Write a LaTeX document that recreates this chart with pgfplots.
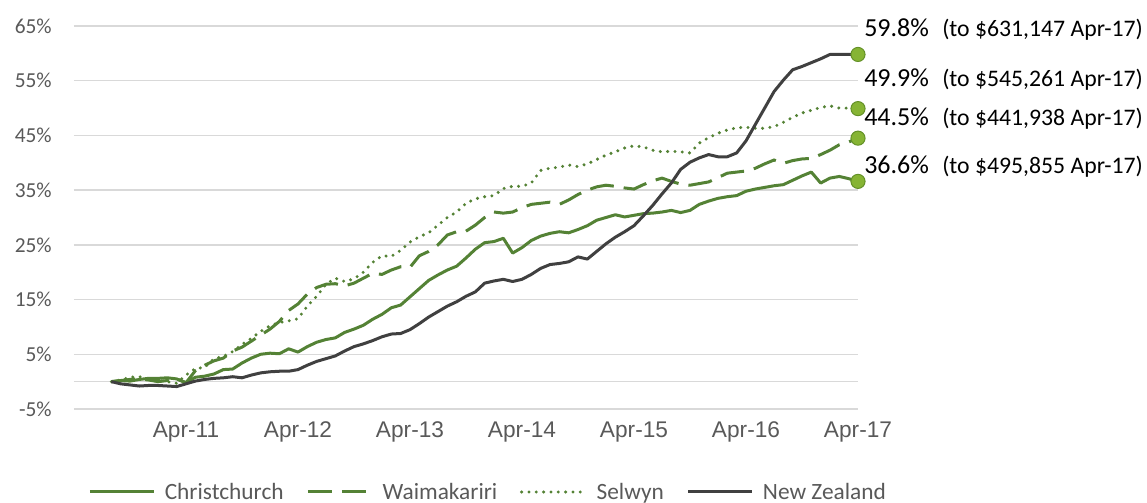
\documentclass[border=0pt]{standalone}
\usepackage{fontspec}
\setmainfont{Carlito}
\newfontfamily\arialfont{Liberation Sans}
\usepackage{pgfplots}
\pgfplotsset{compat=1.18}
\definecolor{ccgreen}{RGB}{84,130,53}
\definecolor{nzgray}{RGB}{64,64,64}
\definecolor{mkfill}{RGB}{134,180,52}
\definecolor{mkdraw}{RGB}{100,145,40}
\definecolor{gridgray}{RGB}{217,217,217}
\definecolor{tickgray}{RGB}{89,89,89}
\begin{document}
\begin{tikzpicture}
\useasboundingbox (-55.5pt,-70.5pt) rectangle (804.75pt,306.75pt);
\begin{axis}[
  at={(0pt,0pt)}, anchor=south west,
  width=588pt, height=287.25pt, scale only axis,
  xmin=0, xmax=84, ymin=-5, ymax=65,
  axis line style={draw=none},
  major tick length=0pt,
  ytick={-5,5,15,25,35,45,55,65},
  yticklabels={-5\%,5\%,15\%,25\%,35\%,45\%,55\%,65\%},
  xtick={12,24,36,48,60,72,84},
  xticklabels={Apr-11,Apr-12,Apr-13,Apr-14,Apr-15,Apr-16,Apr-17},
  ymajorgrids, grid style={draw=gridgray, line width=1pt},
  extra y ticks={0}, extra y tick labels={}, extra y tick style={grid=major},
  yticklabel style={font=\fontsize{16}{16}\selectfont, text=tickgray, inner sep=0pt, anchor=east, xshift=-16.5pt},
  xticklabel style={font=\arialfont\fontsize{17}{17}\selectfont, text=tickgray, inner sep=0pt, anchor=north, yshift=-9.5pt},
  clip=false,
  legend columns=4,
  legend cell align=left,
  legend style={at={(0.527,-0.2167)}, anchor=center, draw=none, fill=none,
     font=\fontsize{17.5}{17.5}\selectfont, text=tickgray, inner sep=0pt, nodes={inner sep=0pt},
     /tikz/every odd column/.append style={column sep=7pt},
     /tikz/every even column/.append style={column sep=17pt}},
  legend image code/.code={\draw[#1] (0pt,0pt) -- (48pt,0pt);},
]
\addplot[ccgreen, line width=2.25pt, line join=round, mark=*, mark indices={81}, mark size=5.3pt,
  mark options={fill=mkfill, draw=mkdraw, line width=0.75pt, solid}] coordinates {
(4,0)(5,0.2)(6,0.1)(7,0.4)(8,0.6)(9,0.6)(10,0.7)(11,0.5)(12,-0.2)(13,0.8)(14,1.0)(15,1.4)(16,2.2)(17,2.3)(18,3.4)(19,4.3)(20,5.0)(21,5.2)(22,5.1)(23,6.0)(24,5.4)(25,6.4)(26,7.2)(27,7.7)(28,8.0)(29,9.0)(30,9.6)(31,10.3)(32,11.4)(33,12.3)(34,13.5)(35,14.0)(36,15.5)(37,17.0)(38,18.5)(39,19.5)(40,20.4)(41,21.1)(42,22.6)(43,24.2)(44,25.4)(45,25.6)(46,26.2)(47,23.5)(48,24.5)(49,25.8)(50,26.6)(51,27.1)(52,27.4)(53,27.2)(54,27.8)(55,28.5)(56,29.5)(57,30.0)(58,30.5)(59,30.1)(60,30.4)(61,30.7)(62,30.8)(63,31.0)(64,31.3)(65,30.9)(66,31.3)(67,32.4)(68,33.0)(69,33.5)(70,33.8)(71,34.0)(72,34.8)(73,35.2)(74,35.5)(75,35.8)(76,36.0)(77,36.8)(78,37.6)(79,38.3)(80,36.3)(81,37.2)(82,37.5)(83,37.1)(84,36.6)
};
\addlegendentry{Christchurch}
\addplot[ccgreen, line width=2.25pt, dash pattern=on 18pt off 7.5pt, mark=*, mark indices={81}, mark size=5.3pt,
  mark options={fill=mkfill, draw=mkdraw, line width=0.75pt, solid}] coordinates {
(4,0)(5,0.2)(6,0.4)(7,0.5)(8,0.3)(9,0.0)(10,0.2)(11,0.5)(12,-0.2)(13,2.0)(14,3.0)(15,3.8)(16,4.3)(17,5.6)(18,6.3)(19,7.4)(20,8.5)(21,9.6)(22,11.0)(23,13.0)(24,14.2)(25,16.0)(26,17.2)(27,17.8)(28,17.9)(29,17.5)(30,18.0)(31,18.9)(32,19.8)(33,19.6)(34,20.4)(35,21.0)(36,20.9)(37,23.0)(38,23.8)(39,25.0)(40,26.8)(41,27.4)(42,27.5)(43,28.6)(44,30.0)(45,31.0)(46,30.8)(47,31.0)(48,31.8)(49,32.4)(50,32.6)(51,32.8)(52,32.4)(53,33.2)(54,34.2)(55,35.0)(56,35.6)(57,35.9)(58,35.7)(59,35.4)(60,35.2)(61,36.0)(62,36.7)(63,37.2)(64,36.6)(65,36.1)(66,35.9)(67,36.2)(68,36.5)(69,37.3)(70,38.1)(71,38.3)(72,38.5)(73,39.0)(74,39.8)(75,40.5)(76,39.9)(77,40.4)(78,40.7)(79,40.8)(80,41.5)(81,42.3)(82,43.3)(83,43.8)(84,44.5)
};
\addlegendentry{Waimakariri}
\addplot[ccgreen, line width=2.5pt, line cap=round, dash pattern=on 0pt off 5.5pt, mark=*, mark indices={81}, mark size=5.3pt,
  mark options={fill=mkfill, draw=mkdraw, line width=0.75pt, solid}] coordinates {
(4,0)(5,0.3)(6,0.8)(7,0.9)(8,0.5)(9,0.2)(10,0.0)(11,-0.3)(12,1.2)(13,2.4)(14,2.6)(15,4.2)(16,4.6)(17,5.5)(18,6.8)(19,7.9)(20,9.2)(21,10.2)(22,10.8)(23,11.1)(24,11.5)(25,13.8)(26,15.6)(27,17.8)(28,18.9)(29,18.3)(30,18.8)(31,20.0)(32,21.8)(33,23.0)(34,22.9)(35,24.0)(36,25.5)(37,26.5)(38,27.2)(39,28.6)(40,30.0)(41,31.0)(42,32.6)(43,33.4)(44,33.8)(45,34.0)(46,35.3)(47,35.7)(48,35.7)(49,36.3)(50,38.6)(51,39.0)(52,39.2)(53,39.6)(54,39.3)(55,39.8)(56,40.6)(57,41.4)(58,42.0)(59,42.7)(60,43.1)(61,42.9)(62,42.3)(63,42.0)(64,42.1)(65,42.0)(66,41.8)(67,43.6)(68,44.6)(69,45.4)(70,46.0)(71,46.4)(72,46.5)(73,46.3)(74,46.3)(75,46.6)(76,47.4)(77,48.3)(78,49.1)(79,49.6)(80,50.1)(81,50.4)(82,50.0)(83,50.0)(84,49.9)
};
\addlegendentry{Selwyn}
\addplot[nzgray, line width=2.25pt, line join=round, mark=*, mark indices={81}, mark size=5.3pt,
  mark options={fill=mkfill, draw=mkdraw, line width=0.75pt, solid}] coordinates {
(4,0)(5,-0.4)(6,-0.6)(7,-0.8)(8,-0.7)(9,-0.7)(10,-0.8)(11,-0.9)(12,-0.4)(13,0.1)(14,0.4)(15,0.6)(16,0.7)(17,0.9)(18,0.7)(19,1.2)(20,1.6)(21,1.8)(22,1.9)(23,1.9)(24,2.2)(25,3.0)(26,3.7)(27,4.2)(28,4.7)(29,5.6)(30,6.4)(31,6.9)(32,7.5)(33,8.2)(34,8.7)(35,8.8)(36,9.5)(37,10.6)(38,11.8)(39,12.8)(40,13.8)(41,14.6)(42,15.6)(43,16.4)(44,18.0)(45,18.4)(46,18.7)(47,18.3)(48,18.7)(49,19.6)(50,20.7)(51,21.4)(52,21.6)(53,21.9)(54,22.8)(55,22.4)(56,23.8)(57,25.2)(58,26.4)(59,27.4)(60,28.5)(61,30.3)(62,32.2)(63,34.3)(64,36.3)(65,38.8)(66,40.1)(67,40.9)(68,41.5)(69,41.1)(70,41.1)(71,41.8)(72,44.0)(73,47.0)(74,50.0)(75,53.0)(76,55.1)(77,57.0)(78,57.6)(79,58.3)(80,59.0)(81,59.8)(82,59.8)(83,59.8)(84,59.8)
};
\addlegendentry{New Zealand}
\node[anchor=base west, inner sep=0pt, xshift=4.5pt, yshift=13.2pt] at (axis cs:84,59.8)
  {{\fontsize{19.5}{19.5}\selectfont 59.8\%}\hspace{10pt}{\fontsize{17.8}{17.8}\selectfont (to \$631,147 Apr-17)}};
\node[anchor=base west, inner sep=0pt, xshift=4.5pt, yshift=16.9pt] at (axis cs:84,49.9)
  {{\fontsize{19.5}{19.5}\selectfont 49.9\%}\hspace{10pt}{\fontsize{17.8}{17.8}\selectfont (to \$545,261 Apr-17)}};
\node[anchor=base west, inner sep=0pt, xshift=4.5pt, yshift=9.75pt] at (axis cs:84,44.5)
  {{\fontsize{19.5}{19.5}\selectfont 44.5\%}\hspace{10pt}{\fontsize{17.8}{17.8}\selectfont (to \$441,938 Apr-17)}};
\node[anchor=base west, inner sep=0pt, xshift=4.5pt, yshift=6pt] at (axis cs:84,36.6)
  {{\fontsize{19.5}{19.5}\selectfont 36.6\%}\hspace{10pt}{\fontsize{17.8}{17.8}\selectfont (to \$495,855 Apr-17)}};
\end{axis}
\end{tikzpicture}
\end{document}
